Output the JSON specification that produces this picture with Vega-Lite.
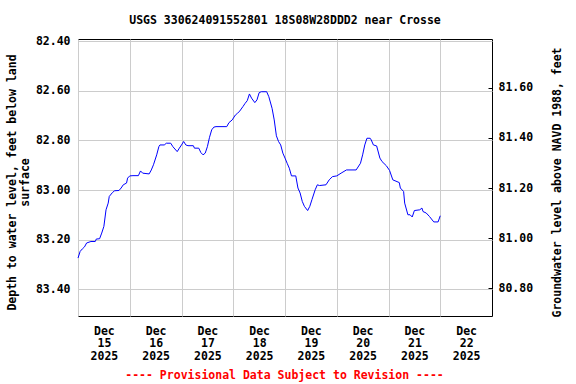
{
  "$schema": "https://vega.github.io/schema/vega-lite/v6.json",
  "width": 414,
  "height": 277,
  "autosize": {"type": "none"},
  "padding": {"left": 78, "top": 39, "right": 84, "bottom": 68},
  "background": "white",
  "config": {
    "font": "DejaVu Sans Mono",
    "view": {"stroke": "black", "strokeWidth": 1},
    "axis": {
      "labelFont": "DejaVu Sans Mono",
      "labelFontWeight": "bold",
      "labelFontSize": 11.5,
      "labelColor": "black",
      "titleFont": "DejaVu Sans Mono",
      "titleFontWeight": "bold",
      "titleFontSize": 11.5,
      "titleColor": "black",
      "gridColor": "#cccccc",
      "gridOpacity": 1,
      "gridWidth": 1,
      "domain": false
    }
  },
  "title": {
    "text": "USGS 330624091552801 18S08W28DDD2 near Crosse",
    "font": "DejaVu Sans Mono",
    "fontSize": 11.5,
    "fontWeight": "bold",
    "color": "black",
    "anchor": "middle",
    "frame": "group",
    "baseline": "alphabetic",
    "offset": -0.5
  },
  "data": {
    "values": [
      {"t": "2025-12-15T00:00", "depth": 83.275, "elev": 80.915},
      {"t": "2025-12-15T01:00", "depth": 83.248, "elev": 80.942},
      {"t": "2025-12-15T02:00", "depth": 83.238, "elev": 80.952},
      {"t": "2025-12-15T03:00", "depth": 83.230, "elev": 80.960},
      {"t": "2025-12-15T04:00", "depth": 83.214, "elev": 80.976},
      {"t": "2025-12-15T06:00", "depth": 83.208, "elev": 80.982},
      {"t": "2025-12-15T08:00", "depth": 83.208, "elev": 80.982},
      {"t": "2025-12-15T08:30", "depth": 83.198, "elev": 80.992},
      {"t": "2025-12-15T10:00", "depth": 83.197, "elev": 80.993},
      {"t": "2025-12-15T11:00", "depth": 83.174, "elev": 81.016},
      {"t": "2025-12-15T12:00", "depth": 83.147, "elev": 81.043},
      {"t": "2025-12-15T13:00", "depth": 83.080, "elev": 81.110},
      {"t": "2025-12-15T14:00", "depth": 83.053, "elev": 81.137},
      {"t": "2025-12-15T14:30", "depth": 83.026, "elev": 81.164},
      {"t": "2025-12-15T16:00", "depth": 83.010, "elev": 81.180},
      {"t": "2025-12-15T17:00", "depth": 83.003, "elev": 81.187},
      {"t": "2025-12-15T19:00", "depth": 83.002, "elev": 81.188},
      {"t": "2025-12-15T20:00", "depth": 82.992, "elev": 81.198},
      {"t": "2025-12-15T21:00", "depth": 82.979, "elev": 81.211},
      {"t": "2025-12-15T22:30", "depth": 82.972, "elev": 81.218},
      {"t": "2025-12-15T23:00", "depth": 82.952, "elev": 81.238},
      {"t": "2025-12-16T00:00", "depth": 82.943, "elev": 81.247},
      {"t": "2025-12-16T01:30", "depth": 82.942, "elev": 81.248},
      {"t": "2025-12-16T04:00", "depth": 82.942, "elev": 81.248},
      {"t": "2025-12-16T05:00", "depth": 82.923, "elev": 81.267},
      {"t": "2025-12-16T06:00", "depth": 82.932, "elev": 81.258},
      {"t": "2025-12-16T09:00", "depth": 82.935, "elev": 81.255},
      {"t": "2025-12-16T10:00", "depth": 82.919, "elev": 81.271},
      {"t": "2025-12-16T11:00", "depth": 82.898, "elev": 81.292},
      {"t": "2025-12-16T12:30", "depth": 82.858, "elev": 81.332},
      {"t": "2025-12-16T13:30", "depth": 82.825, "elev": 81.365},
      {"t": "2025-12-16T14:00", "depth": 82.818, "elev": 81.372},
      {"t": "2025-12-16T16:00", "depth": 82.818, "elev": 81.372},
      {"t": "2025-12-16T17:00", "depth": 82.811, "elev": 81.379},
      {"t": "2025-12-16T19:00", "depth": 82.811, "elev": 81.379},
      {"t": "2025-12-16T20:00", "depth": 82.825, "elev": 81.365},
      {"t": "2025-12-16T22:00", "depth": 82.845, "elev": 81.345},
      {"t": "2025-12-16T23:00", "depth": 82.831, "elev": 81.359},
      {"t": "2025-12-17T00:00", "depth": 82.818, "elev": 81.372},
      {"t": "2025-12-17T01:00", "depth": 82.804, "elev": 81.386},
      {"t": "2025-12-17T02:00", "depth": 82.818, "elev": 81.372},
      {"t": "2025-12-17T03:00", "depth": 82.821, "elev": 81.369},
      {"t": "2025-12-17T05:30", "depth": 82.821, "elev": 81.369},
      {"t": "2025-12-17T06:00", "depth": 82.831, "elev": 81.359},
      {"t": "2025-12-17T08:00", "depth": 82.831, "elev": 81.359},
      {"t": "2025-12-17T09:00", "depth": 82.849, "elev": 81.341},
      {"t": "2025-12-17T10:00", "depth": 82.858, "elev": 81.332},
      {"t": "2025-12-17T11:00", "depth": 82.851, "elev": 81.339},
      {"t": "2025-12-17T12:00", "depth": 82.825, "elev": 81.365},
      {"t": "2025-12-17T13:00", "depth": 82.787, "elev": 81.403},
      {"t": "2025-12-17T14:00", "depth": 82.757, "elev": 81.433},
      {"t": "2025-12-17T15:00", "depth": 82.746, "elev": 81.444},
      {"t": "2025-12-17T16:00", "depth": 82.744, "elev": 81.446},
      {"t": "2025-12-17T21:00", "depth": 82.744, "elev": 81.446},
      {"t": "2025-12-17T22:00", "depth": 82.728, "elev": 81.462},
      {"t": "2025-12-17T23:30", "depth": 82.717, "elev": 81.473},
      {"t": "2025-12-18T01:00", "depth": 82.697, "elev": 81.493},
      {"t": "2025-12-18T02:00", "depth": 82.690, "elev": 81.500},
      {"t": "2025-12-18T03:00", "depth": 82.681, "elev": 81.509},
      {"t": "2025-12-18T04:30", "depth": 82.663, "elev": 81.527},
      {"t": "2025-12-18T05:30", "depth": 82.650, "elev": 81.540},
      {"t": "2025-12-18T06:30", "depth": 82.639, "elev": 81.551},
      {"t": "2025-12-18T07:30", "depth": 82.612, "elev": 81.578},
      {"t": "2025-12-18T08:30", "depth": 82.629, "elev": 81.561},
      {"t": "2025-12-18T10:00", "depth": 82.647, "elev": 81.543},
      {"t": "2025-12-18T11:00", "depth": 82.636, "elev": 81.554},
      {"t": "2025-12-18T12:00", "depth": 82.607, "elev": 81.583},
      {"t": "2025-12-18T13:00", "depth": 82.603, "elev": 81.587},
      {"t": "2025-12-18T15:30", "depth": 82.603, "elev": 81.587},
      {"t": "2025-12-18T16:30", "depth": 82.623, "elev": 81.567},
      {"t": "2025-12-18T18:00", "depth": 82.670, "elev": 81.520},
      {"t": "2025-12-18T19:00", "depth": 82.717, "elev": 81.473},
      {"t": "2025-12-18T20:00", "depth": 82.781, "elev": 81.409},
      {"t": "2025-12-18T21:00", "depth": 82.804, "elev": 81.386},
      {"t": "2025-12-18T22:00", "depth": 82.818, "elev": 81.372},
      {"t": "2025-12-18T23:00", "depth": 82.851, "elev": 81.339},
      {"t": "2025-12-19T00:00", "depth": 82.871, "elev": 81.319},
      {"t": "2025-12-19T01:00", "depth": 82.892, "elev": 81.298},
      {"t": "2025-12-19T02:00", "depth": 82.912, "elev": 81.278},
      {"t": "2025-12-19T03:00", "depth": 82.943, "elev": 81.247},
      {"t": "2025-12-19T05:00", "depth": 82.943, "elev": 81.247},
      {"t": "2025-12-19T06:00", "depth": 82.992, "elev": 81.198},
      {"t": "2025-12-19T07:00", "depth": 83.012, "elev": 81.178},
      {"t": "2025-12-19T08:00", "depth": 83.046, "elev": 81.144},
      {"t": "2025-12-19T09:00", "depth": 83.066, "elev": 81.124},
      {"t": "2025-12-19T10:30", "depth": 83.083, "elev": 81.107},
      {"t": "2025-12-19T11:30", "depth": 83.066, "elev": 81.124},
      {"t": "2025-12-19T12:30", "depth": 83.039, "elev": 81.151},
      {"t": "2025-12-19T14:00", "depth": 82.999, "elev": 81.191},
      {"t": "2025-12-19T15:00", "depth": 82.979, "elev": 81.211},
      {"t": "2025-12-19T16:00", "depth": 82.982, "elev": 81.208},
      {"t": "2025-12-19T19:00", "depth": 82.979, "elev": 81.211},
      {"t": "2025-12-19T20:30", "depth": 82.959, "elev": 81.231},
      {"t": "2025-12-19T22:00", "depth": 82.946, "elev": 81.244},
      {"t": "2025-12-20T00:00", "depth": 82.943, "elev": 81.247},
      {"t": "2025-12-20T02:00", "depth": 82.932, "elev": 81.258},
      {"t": "2025-12-20T04:30", "depth": 82.919, "elev": 81.271},
      {"t": "2025-12-20T09:00", "depth": 82.919, "elev": 81.271},
      {"t": "2025-12-20T11:00", "depth": 82.892, "elev": 81.298},
      {"t": "2025-12-20T12:00", "depth": 82.858, "elev": 81.332},
      {"t": "2025-12-20T13:00", "depth": 82.818, "elev": 81.372},
      {"t": "2025-12-20T14:00", "depth": 82.791, "elev": 81.399},
      {"t": "2025-12-20T15:30", "depth": 82.791, "elev": 81.399},
      {"t": "2025-12-20T16:00", "depth": 82.798, "elev": 81.392},
      {"t": "2025-12-20T17:00", "depth": 82.818, "elev": 81.372},
      {"t": "2025-12-20T18:30", "depth": 82.822, "elev": 81.368},
      {"t": "2025-12-20T20:00", "depth": 82.871, "elev": 81.319},
      {"t": "2025-12-20T21:00", "depth": 82.885, "elev": 81.305},
      {"t": "2025-12-20T23:00", "depth": 82.902, "elev": 81.288},
      {"t": "2025-12-21T00:30", "depth": 82.921, "elev": 81.269},
      {"t": "2025-12-21T02:00", "depth": 82.959, "elev": 81.231},
      {"t": "2025-12-21T05:00", "depth": 82.970, "elev": 81.220},
      {"t": "2025-12-21T05:30", "depth": 82.992, "elev": 81.198},
      {"t": "2025-12-21T07:00", "depth": 83.006, "elev": 81.184},
      {"t": "2025-12-21T07:30", "depth": 83.053, "elev": 81.137},
      {"t": "2025-12-21T09:00", "depth": 83.100, "elev": 81.090},
      {"t": "2025-12-21T10:00", "depth": 83.100, "elev": 81.090},
      {"t": "2025-12-21T11:00", "depth": 83.109, "elev": 81.081},
      {"t": "2025-12-21T12:00", "depth": 83.083, "elev": 81.107},
      {"t": "2025-12-21T14:30", "depth": 83.080, "elev": 81.110},
      {"t": "2025-12-21T15:30", "depth": 83.073, "elev": 81.117},
      {"t": "2025-12-21T16:00", "depth": 83.087, "elev": 81.103},
      {"t": "2025-12-21T17:30", "depth": 83.093, "elev": 81.097},
      {"t": "2025-12-21T19:00", "depth": 83.107, "elev": 81.083},
      {"t": "2025-12-21T21:00", "depth": 83.129, "elev": 81.061},
      {"t": "2025-12-21T23:00", "depth": 83.129, "elev": 81.061},
      {"t": "2025-12-22T00:00", "depth": 83.104, "elev": 81.086}
    ]
  },
  "encoding": {
    "x": {
      "field": "t",
      "type": "temporal",
      "scale": {"domain": [{"year": 2025, "month": 12, "date": 15}, {"year": 2025, "month": 12, "date": 23}]},
      "axis": {
        "values": [
          {"year": 2025, "month": 12, "date": 15},
          {"year": 2025, "month": 12, "date": 16},
          {"year": 2025, "month": 12, "date": 17},
          {"year": 2025, "month": 12, "date": 18},
          {"year": 2025, "month": 12, "date": 19},
          {"year": 2025, "month": 12, "date": 20},
          {"year": 2025, "month": 12, "date": 21},
          {"year": 2025, "month": 12, "date": 22}
        ],
        "grid": true,
        "ticks": false,
        "labelExpr": "[timeFormat(datum.value, '%b'), timeFormat(datum.value, '%d'), timeFormat(datum.value, '%Y')]",
        "labelOffset": 25.875,
        "labelFlush": false,
        "labelOverlap": false,
        "labelBound": false,
        "labelAlign": "center",
        "labelBaseline": "alphabetic",
        "labelPadding": 18,
        "labelLineHeight": 12.7,
        "title": "---- Provisional Data Subject to Revision ----",
        "titleColor": "#ff0000",
        "titleX": 206,
        "titleY": 62,
        "titleAlign": "center",
        "titleBaseline": "alphabetic"
      }
    }
  },
  "layer": [
    {
      "mark": {"type": "line", "color": "#0000ff", "strokeWidth": 1},
      "encoding": {
        "y": {
          "field": "depth",
          "type": "quantitative",
          "scale": {"domain": [82.39, 83.509], "reverse": true, "zero": false, "nice": false},
          "axis": {
            "values": [82.4, 82.6, 82.8, 83.0, 83.2, 83.4],
            "format": ".2f",
            "ticks": false,
            "labelPadding": 8,
            "grid": true,
            "title": ["Depth to water level, feet below land", "surface"],
            "titleLineHeight": 13.5,
            "titleAngle": 270,
            "titleX": -66,
            "titleY": 143,
            "titleAlign": "center",
            "titleBaseline": "middle"
          }
        }
      }
    },
    {
      "mark": {"type": "line", "opacity": 0},
      "encoding": {
        "y": {
          "field": "elev",
          "type": "quantitative",
          "scale": {"domain": [80.69, 81.794], "zero": false, "nice": false},
          "axis": {
            "orient": "right",
            "values": [80.8, 81.0, 81.2, 81.4, 81.6],
            "format": ".2f",
            "grid": false,
            "ticks": true,
            "tickSize": 4,
            "tickColor": "black",
            "offset": -4,
            "labelPadding": 6,
            "title": "Groundwater level above NAVD 1988, feet",
            "titleAngle": 270,
            "titleX": 69,
            "titleY": 143,
            "titleAlign": "center",
            "titleBaseline": "middle"
          }
        }
      }
    }
  ],
  "resolve": {"scale": {"y": "independent"}}
}
